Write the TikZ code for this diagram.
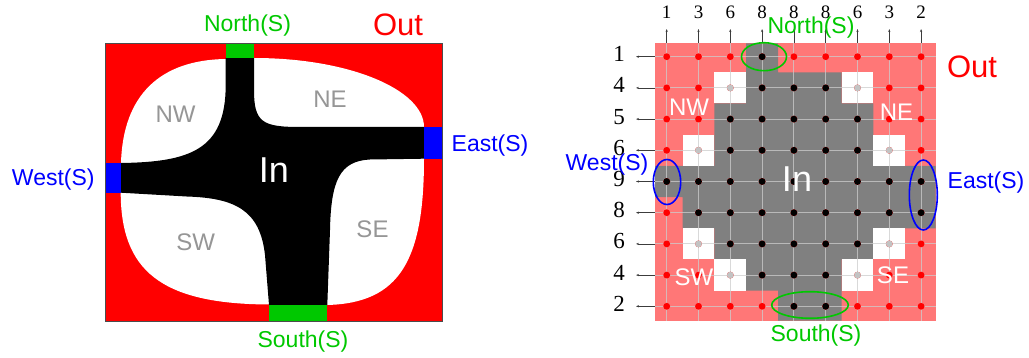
\documentclass[tikz,border=0pt]{standalone}
\usepackage{fontspec}
\setmainfont{Liberation Sans}
\newfontfamily\numfont{Liberation Serif}
\usetikzlibrary{arrows.meta}
\definecolor{myred}{RGB}{255,0,0}
\definecolor{mygreen}{RGB}{0,200,0}
\definecolor{myblue}{RGB}{0,0,255}
\definecolor{pinkbg}{RGB}{255,119,119}
\definecolor{ingray}{RGB}{128,128,128}
\definecolor{labgray}{RGB}{150,150,150}
\definecolor{gridgray}{RGB}{205,205,205}
\definecolor{dotlight}{RGB}{195,195,195}
\definecolor{arrowgray}{RGB}{60,60,60}
\tikzset{
  lab/.style={inner sep=0pt, font=\fontsize{23}{26}\selectfont},
  biglab/.style={inner sep=0pt, font=\fontsize{31}{34}\selectfont},
  inlab/.style={inner sep=0pt, text=white, font=\fontsize{36}{40}\selectfont},
  reglab/.style={inner sep=0pt, font=\fontsize{24}{27}\selectfont},
  collab/.style={inner sep=0pt, font=\numfont\fontsize{19}{22}\selectfont},
  rowlab/.style={inner sep=0pt, font=\numfont\fontsize{23}{25}\selectfont},
  gridline/.style={draw=gridgray, line width=0.9pt, opacity=0.75},
  tick/.style={draw=arrowgray, line width=0.6pt, -{Stealth[length=3pt,width=2.2pt]}},
  ring/.style={line width=1.6pt},
}
\begin{document}
\begin{tikzpicture}[x=1pt,y=-1pt]
\useasboundingbox (0,0) rectangle (1029,358);

% ---------------- left diagram ----------------
\fill[myred] (105.3,43.3) rectangle (442,321);
\fill[white] (225.7,59) -- (254,58) .. controls (350,58) and (424,90) .. (424,127)
  -- (424,158.7) .. controls (424,260) and (400,303) .. (327.3,305)
  -- (269,304.5) .. controls (160,304) and (121,270) .. (120.7,192.7)
  -- (121,163) .. controls (123,95) and (160,60) .. (225.7,59) -- cycle;
\fill[black] (225.7,57.7) -- (225.7,85) .. controls (225.7,150) and (190,162) .. (121,163)
  -- (120.7,192.7) -- (186.7,196.5) .. controls (235,198) and (260,210) .. (265,255)
  -- (269,305) -- (327.3,305) -- (330,230) .. controls (331,180) and (340,161) .. (370,159.5)
  -- (424,158.7) -- (424,127) -- (300,127) .. controls (262,127) and (254,122) .. (254,90)
  -- (254,57.7) -- cycle;
\fill[mygreen] (225.7,43.3) rectangle (254,57.7);
\fill[mygreen] (269,305) rectangle (327.3,321);
\fill[myblue] (106,163.3) rectangle (120.7,192.7);
\fill[myblue] (424,127) rectangle (441.7,158.7);
\draw[gray!60!black, line width=0.8pt] (105.3,43.3) rectangle (442,321);

\node[lab, text=mygreen] (lnorth) at (247.5,26) {North(S)};
\node[lab, text=mygreen] (lsouth) at (303,342) {South(S)};
\node[lab, text=myblue] (lwest) at (53.3,180) {West(S)};
\node[lab, text=myblue] (least) at (490,146) {East(S)};
\node[biglab, text=myred] (lout) at (398,24.5) {Out};
\node[inlab] (lin) at (273.8,169.7) {In};
\node[reglab, text=labgray] (lnw) at (175.5,114.7) {NW};
\node[reglab, text=labgray] (lne) at (330,99.7) {NE};
\node[reglab, text=labgray] (lsw) at (195.8,242.5) {SW};
\node[reglab, text=labgray] (lse) at (372.5,229.7) {SE};

% ---------------- right diagram ----------------
\fill[pinkbg] (655,43.3) rectangle (935.7,320.7);
\fill[ingray] (746.2,43.3) -- (778,43.3) -- (778,72.3) -- (841.6,72.3) -- (841.6,103.5)
  -- (873.4,103.5) -- (873.4,165.9) -- (935.7,165.9) -- (935.7,228.3) -- (873.4,228.3)
  -- (873.4,259.5) -- (841.6,259.5) -- (841.6,320.7) -- (778,320.7) -- (778,290.7)
  -- (746.2,290.7) -- (746.2,259.5) -- (714.4,259.5) -- (714.4,228.3) -- (682.6,228.3)
  -- (682.6,197.1) -- (655,197.1) -- (655,165.9) -- (714.4,165.9) -- (714.4,103.5)
  -- (746.2,103.5) -- cycle;
% white cells
\foreach \r/\c in {2/3,2/7,4/2,4/8,7/2,7/8,8/3,8/7}{
  \pgfmathsetmacro\xa{650.8+31.8*(\c-1)}
  \pgfmathsetmacro\ya{41.1+31.2*(\r-1)}
  \fill[white] (\xa,\ya) rectangle ++(31.8,31.2);
}
% grid lines
\foreach \i in {1,...,9}{
  \pgfmathsetmacro\cx{666.7+31.8*(\i-1)}
  \pgfmathsetmacro\ry{56.7+31.2*(\i-1)}
  \draw[gridline] (\cx,43.3) -- (\cx,320.7);
  \draw[gridline] (655,\ry) -- (935.7,\ry);
}
% column labels and arrows
\foreach \i/\v in {1/1,2/3,3/6,4/8,5/8,6/8,7/6,8/3,9/2}{
  \pgfmathsetmacro\cx{666.7+31.8*(\i-1)}
  \node[collab] (col\i) at (\cx,12) {\v};
  \coordinate (cb\i) at (\cx,43.3);
  \coordinate (ct\i) at (\cx,29);
  \draw[tick] (cb\i) -- (ct\i);
}
% row labels and arrows
\foreach \j/\v in {1/1,2/4,3/5,4/6,5/9,6/8,7/6,8/4,9/2}{
  \pgfmathsetmacro\ry{56.7+31.2*(\j-1)}
  \node[rowlab] (row\j) at (619,\ry-2.5) {\v};
  \coordinate (rb\j) at (655,\ry);
  \coordinate (rt\j) at (636,\ry);
  \draw[tick] (rb\j) -- (rt\j);
}
% dots
\foreach \r in {1,...,9}{
  \foreach \c in {1,...,9}{
    \pgfmathsetmacro\cx{666.7+31.8*(\c-1)}
    \pgfmathsetmacro\ry{56.7+31.2*(\r-1)}
    \fill[myred] (\cx,\ry) circle (3.4);
  }
}
\foreach \r/\cs in {1/{4},2/{4,5,6},3/{3,4,5,6,7},4/{3,4,5,6,7},5/{1,2,3,4,5,6,7,8,9},6/{2,3,4,5,6,7,8,9},7/{3,4,5,6,7},8/{4,5,6},9/{5,6}}{
  \foreach \c in \cs {
    \pgfmathsetmacro\cx{666.7+31.8*(\c-1)}
    \pgfmathsetmacro\ry{56.7+31.2*(\r-1)}
    \fill[black] (\cx,\ry) circle (3.4);
  }
}
\foreach \r/\c in {2/3,2/7,4/2,4/8,7/2,7/8,8/3,8/7}{
  \pgfmathsetmacro\cx{666.7+31.8*(\c-1)}
  \pgfmathsetmacro\ry{56.7+31.2*(\r-1)}
  \fill[dotlight] (\cx,\ry) circle (3.4);
}
% rings
\draw[ring, mygreen] (764,56.7) ellipse [x radius=22.5, y radius=14];
\draw[ring, mygreen] (810,305) ellipse [x radius=38.3, y radius=13.3];
\draw[ring, myblue] (667,182) ellipse [x radius=13.7, y radius=22.5];
\draw[ring, myblue] (923.3,195) ellipse [x radius=14, y radius=35];

\node[lab, text=mygreen] (rnorth) at (811,28) {North(S)};
\node[lab, text=mygreen] (rsouth) at (816,336) {South(S)};
\node[lab, text=myblue] (rwest) at (607,165) {West(S)};
\node[lab, text=myblue] (reast) at (986,183) {East(S)};
\node[biglab, text=myred] (rout) at (972,67) {Out};
\node[inlab] (rin) at (797,179) {In};
\node[reglab, text=white] (rnw) at (689,107) {NW};
\node[reglab, text=white] (rne) at (896.5,112) {NE};
\node[reglab, text=white] (rsw) at (694,277) {SW};
\node[reglab, text=white] (rse) at (893,275) {SE};
\end{tikzpicture}
\end{document}
